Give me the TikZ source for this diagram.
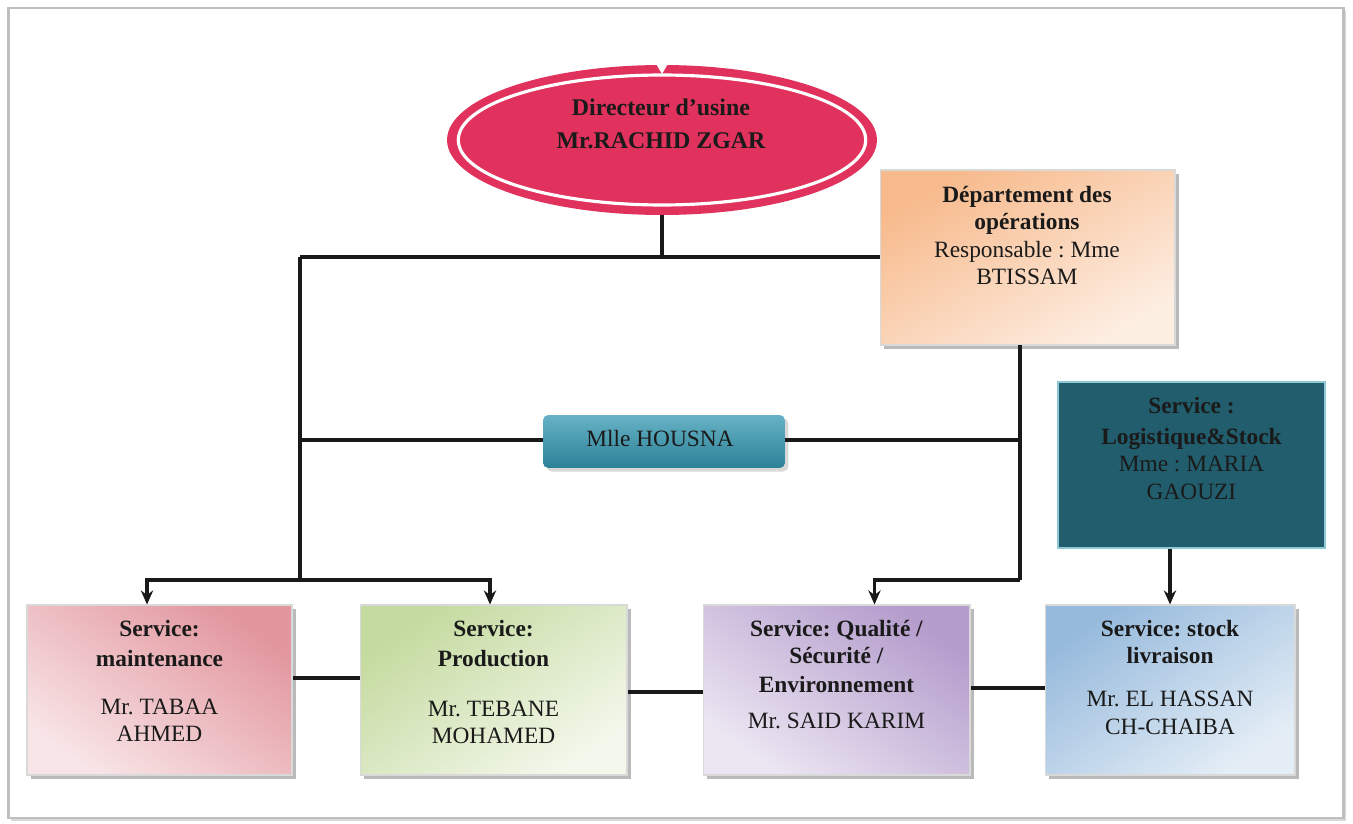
\documentclass[tikz,border=0pt]{standalone}
\usepackage{fontspec}
\setmainfont{Liberation Serif}
\frenchspacing
\usetikzlibrary{arrows.meta,shadows,shapes.geometric}
\definecolor{dirred}{RGB}{224,50,92}
\definecolor{deporange}{RGB}{247,186,140}
\definecolor{housnateal}{RGB}{52,152,178}
\definecolor{logiteal}{RGB}{33,93,108}
\definecolor{logiedge}{RGB}{142,201,214}
\definecolor{maintpink}{RGB}{226,150,158}
\definecolor{prodgreen}{RGB}{196,218,158}
\definecolor{qualpurple}{RGB}{180,156,204}
\definecolor{stockblue}{RGB}{150,186,220}
\definecolor{txt}{RGB}{26,26,26}
\tikzset{
  x=0.02cm, y=-0.02cm,
  conn/.style={line width=2.1pt, draw=black!90},
  arr/.style={conn, -{Stealth[length=8pt,width=7pt]}},
  card/.style={rectangle, draw=white!70!gray, line width=0.6pt,
    drop shadow={shadow xshift=2.5pt, shadow yshift=-2.5pt, opacity=0.45, fill=black!60}},
  lbl/.style={anchor=north, inner sep=0pt, align=center, text=txt,
    font=\fontsize{13.3}{15.5}\selectfont},
}
\begin{document}
\begin{tikzpicture}
\useasboundingbox (0,0) rectangle (1353,824);
\fill[white] (0,0) rectangle (1353,824);
% outer frame
\node[draw=black!25, line width=1.4pt, fill=white, minimum width=26.7cm, minimum height=16.2cm,
  drop shadow={shadow xshift=1.5pt, shadow yshift=-1.5pt, opacity=0.3}] (frame) at (676,413) {};

% director ellipse
\node[ellipse, fill=dirred, minimum width=8.6cm, minimum height=3.0cm, inner sep=0pt] (dir) at (662,140) {};
\node[ellipse, draw=white, line width=1.8pt, minimum width=8.15cm, minimum height=2.6cm, inner sep=0pt] (dirin) at (662,140) {};
\fill[white] (655,62) -- (669,62) -- (662,74) -- cycle;
\node[lbl, font=\bfseries\fontsize{13.6}{18.5}\selectfont] (dirt) at (661,99) {Directeur d’usine\\Mr.RACHID ZGAR};

% departement
\node[card, minimum width=5.9cm, minimum height=3.5cm, top color=deporange, bottom color=deporange!25!white, shading angle=30] (dep) at (1027.5,257.5) {};
\node[lbl] (dept) at (1027,186) {\textbf{Département des}\\\textbf{opérations}\\Responsable : Mme\\BTISSAM};

% housna
\node[rectangle, rounded corners=3pt, minimum width=4.84cm, minimum height=1.06cm,
  top color=housnateal!75!white, bottom color=housnateal!85!black,
  drop shadow={shadow xshift=2pt, shadow yshift=-2pt, opacity=0.3}] (hous) at (664,441.5) {};
\node[text=txt, inner sep=0pt, font=\fontsize{13.3}{15}\selectfont] (houst) at (660,439) {Mlle HOUSNA};

% logistique
\node[rectangle, draw=logiedge, line width=0.8pt, fill=logiteal, minimum width=5.34cm, minimum height=3.32cm] (logi) at (1191.5,465) {};
\node[lbl] (logit) at (1191.5,397) {\textbf{Service :}\\[2pt]\textbf{Logistique\&Stock}\\[0pt]Mme : MARIA\\[0.5pt]GAOUZI};

% bottom services
\node[card, minimum width=5.3cm, minimum height=3.4cm, top color=maintpink, bottom color=maintpink!25!white, shading angle=-35] (maint) at (159.5,690) {};
\node[lbl] (maintt) at (159.5,620) {\textbf{Service:}\\[1.5pt]\textbf{maintenance}\\[12pt]Mr. TABAA\\AHMED};

\node[card, minimum width=5.34cm, minimum height=3.4cm, top color=prodgreen, bottom color=prodgreen!20!white, shading angle=35] (prod) at (493.5,690) {};
\node[lbl] (prodt) at (493.5,620) {\textbf{Service:}\\[1.5pt]\textbf{Production}\\[13pt]Mr. TEBANE\\MOHAMED};

\node[card, minimum width=5.34cm, minimum height=3.4cm, top color=qualpurple, bottom color=qualpurple!25!white, shading angle=-35] (qual) at (836.5,690) {};
\node[lbl] (qualt) at (836.5,620) {\textbf{Service: Qualité /}\\\textbf{Sécurité /}\\[1pt]\textbf{Environnement}\\[5pt]Mr. SAID KARIM};

\node[card, minimum width=5.0cm, minimum height=3.4cm, top color=stockblue, bottom color=stockblue!25!white, shading angle=35] (stock) at (1170,690) {};
\node[lbl] (stockt) at (1170,620) {\textbf{Service: stock}\\\textbf{livraison}\\[9pt]Mr. EL HASSAN\\CH-CHAIBA};

% junctions
\coordinate (jtop) at (662,257);
\coordinate (jleft) at (300,257);
\coordinate (jmid) at (300,440);
\coordinate (jbot) at (300,580);
\coordinate (jright) at (1020,440);
\coordinate (jdep) at (1020,345);
\coordinate (jdepb) at (1020,580);

% connectors
\draw[conn] (dir.south) -- (jtop);
\draw[conn] (jleft) -- (dep.west |- jleft);
\draw[conn] (jleft) -- (jbot);
\draw[conn] (jmid) -- (hous.west |- jmid);
\draw[conn] (hous.east |- jright) -- (jright);
\draw[conn] (jdep) -- (jdepb);
\draw[arr] (jbot) -| ([xshift=-0.25cm]maint.north);
\draw[arr] (jbot) -| ([xshift=-0.07cm]prod.north);
\draw[arr] (jdepb) -| ([xshift=0.76cm]qual.north);
\draw[arr] (stock.north |- logi.south) -- (stock.north);
\draw[conn] ([yshift=0.24cm]maint.east) -- ([yshift=0.24cm]prod.west);
\draw[conn] ([yshift=-0.04cm]prod.east) -- ([yshift=-0.04cm]qual.west);
\draw[conn] ([yshift=0.04cm]qual.east) -- ([yshift=0.04cm]stock.west);
\end{tikzpicture}
\end{document}
